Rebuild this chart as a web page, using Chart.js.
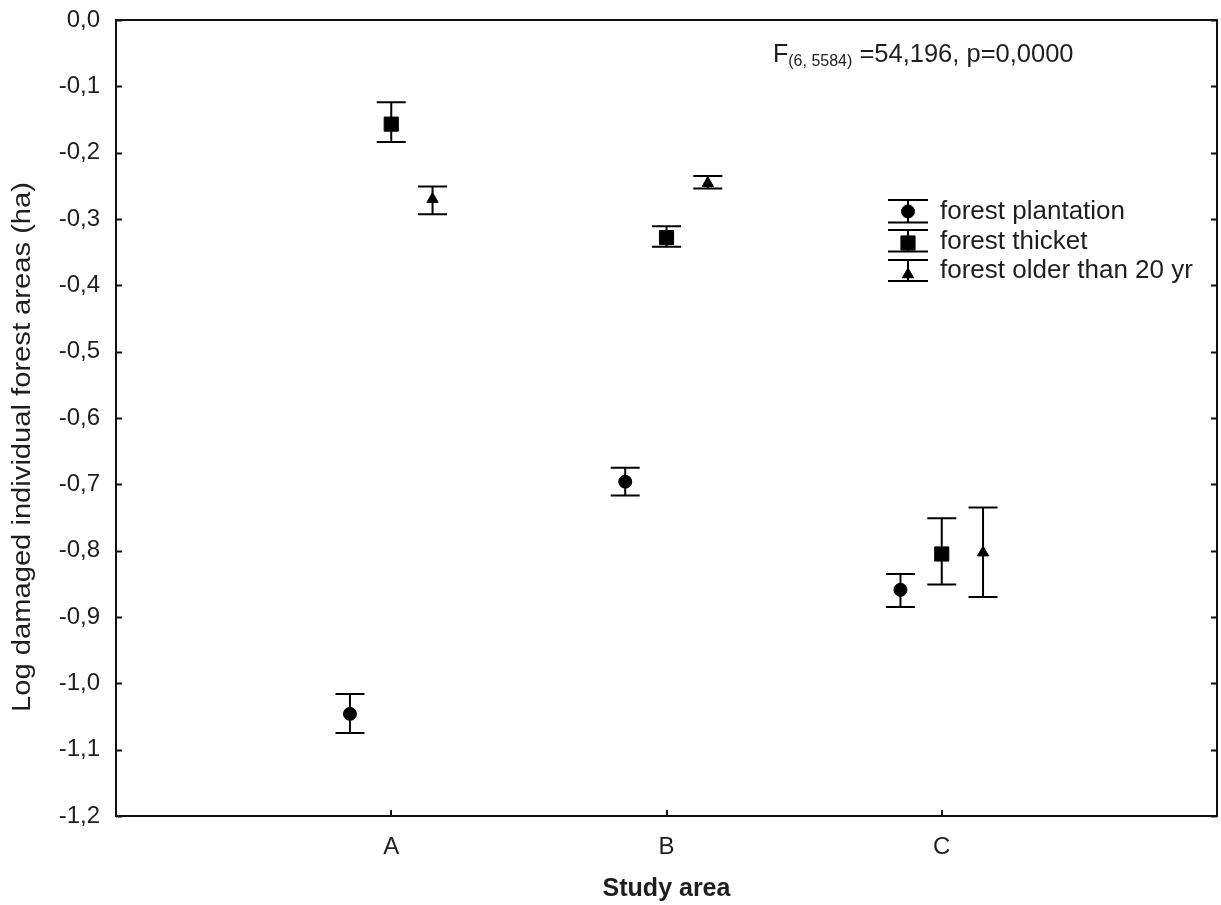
<!DOCTYPE html>
<html>
<head>
<meta charset="utf-8">
<script src="https://cdn.jsdelivr.net/npm/chart.js@4.4.1/dist/chart.umd.min.js"></script>
<style>
html,body{margin:0;padding:0;background:#fff;}
#wrap{width:1221px;height:905px;position:relative;}
</style>
</head>
<body>
<div id="wrap"><canvas id="c" width="1221" height="905"></canvas></div>
<script>
// ---- data ----
const categories = ['A', 'B', 'C'];
const seriesNames = ['forest plantation', 'forest thicket', 'forest older than 20 yr'];
const plantationMean = [-1.046, -0.696, -0.859];
const plantationLow  = [-1.075, -0.717, -0.885];
const plantationHigh = [-1.016, -0.675, -0.835];
const thicketMean = [-0.157, -0.328, -0.805];
const thicketLow  = [-0.184, -0.342, -0.851];
const thicketHigh = [-0.124, -0.311, -0.751];
const olderMean = [-0.270, -0.246, -0.803];
const olderLow  = [-0.293, -0.254, -0.870];
const olderHigh = [-0.251, -0.235, -0.735];
const yTickValues = [0, -0.1, -0.2, -0.3, -0.4, -0.5, -0.6, -0.7, -0.8, -0.9, -1.0, -1.1, -1.2];
const statText = { main: 'F', sub: '(6, 5584)', rest: ' =54,196, p=0,0000' };
const xTitle = 'Study area';
const yTitle = 'Log damaged individual forest areas (ha)';

// ---- layout/style ----
const dodge = [-0.15, 0, 0.15];
const markerStyles = ['circle', 'rect', 'triangle'];
const markerRadius = [6.5, 10, 6.5];
const FONT = '"Liberation Sans", Arial, sans-serif';
const TXT = '#1e1e1e';

const means = [plantationMean, thicketMean, olderMean];
const lows = [plantationLow, thicketLow, olderLow];
const highs = [plantationHigh, thicketHigh, olderHigh];

const datasets = means.map((m, i) => ({
  label: seriesNames[i],
  data: m.map((v, j) => ({ x: j + 1 + dodge[i], y: v })),
  pointStyle: markerStyles[i],
  pointRadius: markerRadius[i],
  pointHoverRadius: markerRadius[i],
  backgroundColor: '#000',
  borderColor: '#000',
  borderWidth: 1,
  showLine: false
}));

function drawMarker(ctx, style, x, y, r) {
  Chart.helpers.drawPoint(ctx, { pointStyle: style, radius: r, borderWidth: 1, rotation: 0 }, x, y);
}

const decor = {
  id: 'decor',
  beforeDatasetsDraw(chart) {
    const ctx = chart.ctx, xs = chart.scales.x, ys = chart.scales.y;
    ctx.save();
    ctx.strokeStyle = '#000';
    ctx.lineWidth = 2;
    means.forEach((m, i) => {
      m.forEach((v, j) => {
        const x = xs.getPixelForValue(j + 1 + dodge[i]);
        const y1 = ys.getPixelForValue(lows[i][j]);
        const y2 = ys.getPixelForValue(highs[i][j]);
        ctx.beginPath();
        ctx.moveTo(x, y1); ctx.lineTo(x, y2);
        ctx.moveTo(x - 14.5, y1); ctx.lineTo(x + 14.5, y1);
        ctx.moveTo(x - 14.5, y2); ctx.lineTo(x + 14.5, y2);
        ctx.stroke();
      });
    });
    ctx.restore();
  },
  afterDraw(chart) {
    const ctx = chart.ctx, a = chart.chartArea, xs = chart.scales.x, ys = chart.scales.y;
    ctx.save();
    ctx.strokeStyle = '#111';
    ctx.lineWidth = 2;
    ctx.strokeRect(a.left, a.top, a.right - a.left, a.bottom - a.top);
    ctx.beginPath();
    ys.ticks.forEach(t => {
      const y = Math.round(ys.getPixelForValue(t.value)) + 0.5;
      ctx.moveTo(a.left, y); ctx.lineTo(a.left + 6, y);
      ctx.moveTo(a.right, y); ctx.lineTo(a.right - 6, y);
    });
    xs.ticks.forEach(t => {
      const x = Math.round(xs.getPixelForValue(t.value));
      ctx.moveTo(x, a.bottom); ctx.lineTo(x, a.bottom - 6);
    });
    ctx.stroke();

    // axis titles
    ctx.fillStyle = TXT;
    ctx.textAlign = 'center';
    ctx.textBaseline = 'middle';
    ctx.font = 'bold 25px ' + FONT;
    ctx.fillText(xTitle, (a.left + a.right) / 2, 889);
    ctx.save();
    ctx.translate(23, 447);
    ctx.rotate(-Math.PI / 2);
    ctx.font = '25px ' + FONT;
    const w = ctx.measureText(yTitle).width;
    ctx.scale(530 / w, 1);
    ctx.fillText(yTitle, 0, 0);
    ctx.restore();

    // statistic
    ctx.textAlign = 'left';
    ctx.textBaseline = 'alphabetic';
    let x = 773; const base = 61.5;
    ctx.font = '25px ' + FONT;
    ctx.fillText(statText.main, x, base); x += ctx.measureText(statText.main).width;
    ctx.font = '16px ' + FONT;
    ctx.fillText(statText.sub, x, base + 4); x += ctx.measureText(statText.sub).width;
    ctx.font = '25.5px ' + FONT;
    ctx.fillText(statText.rest, x, base);

    // legend
    const rows = [
      { top: 200, bot: 222.5, my: 211.5, ty: 212 },
      { top: 230, bot: 251.5, my: 243, ty: 242 },
      { top: 260, bot: 281, my: 274.5, ty: 271 }
    ];
    const lx = 908;
    ctx.strokeStyle = '#000';
    ctx.fillStyle = '#000';
    ctx.lineWidth = 2;
    rows.forEach((r, i) => {
      ctx.beginPath();
      ctx.moveTo(lx, r.top); ctx.lineTo(lx, r.bot);
      ctx.moveTo(lx - 20, r.top); ctx.lineTo(lx + 20, r.top);
      ctx.moveTo(lx - 20, r.bot); ctx.lineTo(lx + 20, r.bot);
      ctx.stroke();
      ctx.save();
      ctx.fillStyle = '#000'; ctx.strokeStyle = '#000'; ctx.lineWidth = 1;
      drawMarker(ctx, markerStyles[i], lx, r.my, markerRadius[i]);
      ctx.restore();
      ctx.fillStyle = TXT;
      ctx.font = '26px ' + FONT;
      ctx.textBaseline = 'middle';
      ctx.fillText(seriesNames[i], 940, r.ty);
    });
    ctx.restore();
  }
};

new Chart(document.getElementById('c'), {
  type: 'scatter',
  data: { datasets },
  options: {
    responsive: false,
    animation: false,
    events: [],
    layout: { autoPadding: false, padding: { left: 0, right: 4, top: 20, bottom: 0 } },
    plugins: { legend: { display: false }, tooltip: { enabled: false } },
    scales: {
      x: {
        type: 'linear', min: 0, max: 4,
        afterBuildTicks: s => { s.ticks = categories.map((c, i) => ({ value: i + 1 })); },
        afterFit: s => { s.height = 89; s.paddingLeft = 0; s.paddingRight = 0; },
        grid: { display: false, drawTicks: false },
        border: { display: false },
        ticks: {
          padding: 17,
          color: TXT,
          font: { size: 24, family: FONT },
          autoSkip: false, maxRotation: 0,
          callback: v => categories[v - 1] || ''
        }
      },
      y: {
        type: 'linear', min: -1.2, max: 0,
        afterBuildTicks: s => { s.ticks = yTickValues.map(v => ({ value: v })); },
        afterFit: s => { s.width = 116; s.paddingTop = 0; s.paddingBottom = 0; },
        grid: { display: false, drawTicks: false },
        border: { display: false },
        ticks: {
          padding: 16,
          color: TXT,
          font: { size: 24, family: FONT },
          callback: v => v.toFixed(1).replace('.', ',')
        }
      }
    }
  },
  plugins: [decor]
});
</script>
</body>
</html>
